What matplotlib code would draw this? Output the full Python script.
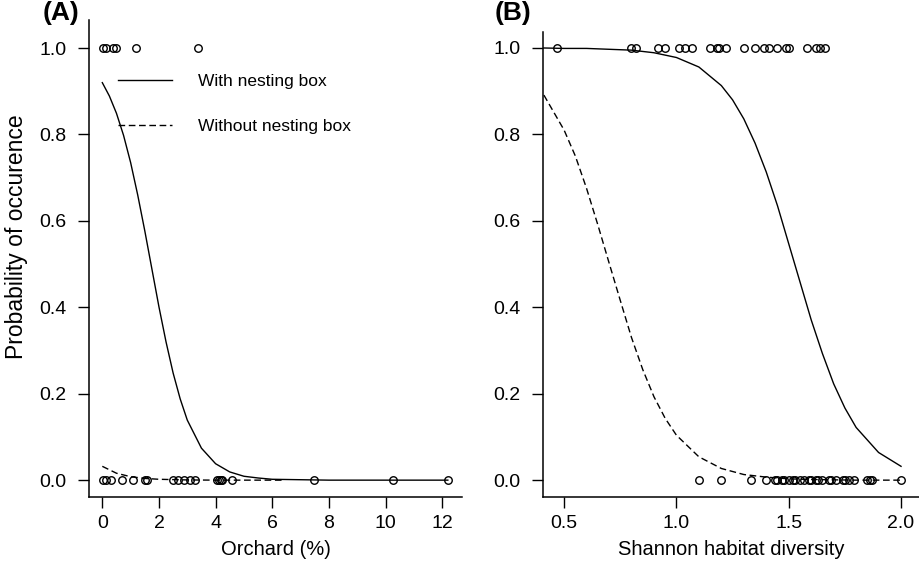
import numpy as np
import matplotlib
matplotlib.use("Agg")
import matplotlib.pyplot as plt

plt.rcParams['font.family'] = ['Liberation Sans', 'DejaVu Sans']

# (A) orchard cover (%) of sites with / without occurrence
orchard_present = [0.01, 0.13, 0.37, 0.48, 1.18, 3.37]
orchard_absent = [0.01, 0.12, 0.30, 0.68, 1.10, 1.51, 1.59, 2.51, 2.68, 2.90,
                  3.10, 3.27, 4.04, 4.12, 4.19, 4.24, 4.59, 7.48, 10.27, 12.21]

# (A) fitted curves
orchard_curve_x = [0, 0.25, 0.5, 0.75, 1, 1.25, 1.5, 1.75, 2, 2.25, 2.5, 2.75, 3,
                   3.5, 4, 4.5, 5, 5.5, 6, 7, 8, 10, 12.2]
orchard_with_box = [0.920, 0.889, 0.849, 0.798, 0.735, 0.660, 0.577, 0.489, 0.401,
                    0.320, 0.248, 0.188, 0.139, 0.074, 0.038, 0.019, 0.009, 0.005,
                    0.002, 0.001, 0.0, 0.0, 0.0]
orchard_curve_x2 = [0, 0.5, 1, 1.5, 2, 3, 4, 5, 6.4]
orchard_without_box = [0.032, 0.016, 0.008, 0.004, 0.002, 0.0005, 0.0, 0.0, 0.0]

# (B) Shannon habitat diversity of sites with / without occurrence
shannon_present = [0.47, 0.80, 0.82, 0.92, 0.95, 1.01, 1.04, 1.07, 1.15, 1.18, 1.19,
                   1.22, 1.30, 1.35, 1.39, 1.41, 1.45, 1.49, 1.50, 1.58, 1.62, 1.64, 1.66]
shannon_absent = [1.10, 1.20, 1.33, 1.40, 1.44, 1.45, 1.47, 1.48, 1.50, 1.52, 1.53,
                  1.55, 1.57, 1.59, 1.60, 1.62, 1.63, 1.65, 1.68, 1.69, 1.71, 1.74,
                  1.75, 1.77, 1.79, 1.85, 1.86, 1.87, 2.00]

# (B) fitted curves
shannon_curve_x = [0.41, 0.5, 0.6, 0.7, 0.8, 0.9, 1.0, 1.1, 1.2, 1.25, 1.3, 1.35, 1.4,
                   1.45, 1.5, 1.55, 1.6, 1.65, 1.7, 1.75, 1.8, 1.9, 2.0]
shannon_with_box = [1.000, 0.999, 0.999, 0.997, 0.995, 0.989, 0.978, 0.956, 0.913,
                    0.880, 0.836, 0.780, 0.713, 0.635, 0.547, 0.459, 0.371, 0.293,
                    0.223, 0.167, 0.122, 0.064, 0.032]
shannon_curve_x2 = [0.41, 0.45, 0.5, 0.55, 0.6, 0.65, 0.7, 0.75, 0.8, 0.85, 0.9, 0.95,
                    1.0, 1.1, 1.2, 1.3, 1.4, 1.5, 1.6, 1.8, 2.0]
shannon_without_box = [0.891, 0.855, 0.810, 0.750, 0.675, 0.591, 0.503, 0.416, 0.330,
                       0.256, 0.193, 0.143, 0.104, 0.054, 0.027, 0.013, 0.007, 0.003,
                       0.0015, 0.0, 0.0]

W, H = 919, 563
fig = plt.figure(figsize=(W / 100, H / 100), dpi=100)

def px_axes(left, right, top, bottom):
    return fig.add_axes([left / W, 1 - bottom / H, (right - left) / W, (bottom - top) / H])

axA = px_axes(89, 462, 20, 497)
axB = px_axes(543, 919, 32, 497)

lw = 1.0
dash = (0, (4.8, 2.6))
mk = dict(marker='o', ms=5.4, mfc='none', mec='black', mew=1.0, ls='none', clip_on=False)

# panel A
l1, = axA.plot(orchard_curve_x, orchard_with_box, color='black', lw=lw, label='With nesting box')
l2, = axA.plot(orchard_curve_x2, orchard_without_box, color='black', lw=lw, ls=dash,
               label='Without nesting box')
axA.plot(orchard_present, np.ones(len(orchard_present)), **mk)
axA.plot(orchard_absent, np.zeros(len(orchard_absent)), **mk)
axA.set_xlim(-0.47, 12.70)
axA.set_ylim(-0.039, 1.065)
axA.set_xticks([0, 2, 4, 6, 8, 10, 12])
axA.set_xlabel('Orchard (%)', fontsize=14.5, labelpad=6)
axA.set_ylabel('Probability of occurence', fontsize=16.5)
axA.yaxis.set_label_coords(-0.163, 0.545)
axA.legend(handles=[l1, l2], loc='upper left', bbox_to_anchor=(0.0777, 0.887),
           frameon=False, fontsize=12.5, handlelength=3.1, handletextpad=1.5,
           labelspacing=1.7, borderpad=0, borderaxespad=0)

# panel B
axB.plot(shannon_curve_x, shannon_with_box, color='black', lw=lw)
axB.plot(shannon_curve_x2, shannon_without_box, color='black', lw=lw, ls=dash)
axB.plot(shannon_present, np.ones(len(shannon_present)), **mk)
axB.plot(shannon_absent, np.zeros(len(shannon_absent)), **mk)
axB.set_xlim(0.406, 2.08)
axB.set_ylim(-0.039, 1.037)
axB.set_xticks([0.5, 1.0, 1.5, 2.0])
axB.set_xlabel('Shannon habitat diversity', fontsize=14.5, labelpad=6)

for ax in (axA, axB):
    ax.set_yticks([0.0, 0.2, 0.4, 0.6, 0.8, 1.0])
    ax.yaxis.set_major_formatter(matplotlib.ticker.FormatStrFormatter('%.1f'))
    for s in ('top', 'right'):
        ax.spines[s].set_visible(False)
    for s in ('left', 'bottom'):
        ax.spines[s].set_linewidth(1.1)
    ax.tick_params(direction='out', length=8, width=1.0, labelsize=14)
    ax.tick_params(axis='y', pad=8)
    ax.tick_params(axis='x', pad=5)
    ax.set_facecolor('none')

fig.text(43 / W, 1 - 1 / H, '(A)', fontsize=19, fontweight='bold', ha='left', va='top')
fig.text(495 / W, 1 - 1 / H, '(B)', fontsize=19, fontweight='bold', ha='left', va='top')

fig.savefig('out.png', dpi=100)
